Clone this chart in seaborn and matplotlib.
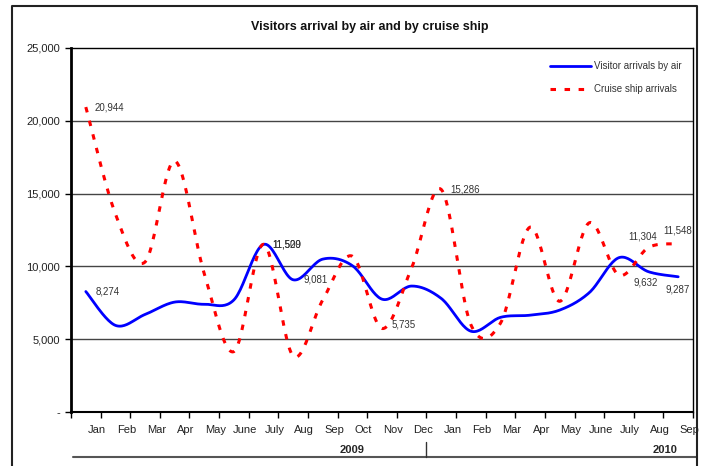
import numpy as np
import pandas as pd
import matplotlib
matplotlib.use("Agg")
import matplotlib.pyplot as plt
from matplotlib.lines import Line2D
import seaborn as sns

# Monthly data, Jan 2009 - Sep 2010
months = ["Jan", "Feb", "Mar", "Apr", "May", "June", "July", "Aug", "Sep", "Oct", "Nov", "Dec",
          "Jan", "Feb", "Mar", "Apr", "May", "June", "July", "Aug", "Sep"]
air = [8274, 5950, 6700, 7550, 7400, 7700, 11509, 9081, 10500, 10050, 7750, 8650,
       7800, 5550, 6500, 6650, 7000, 8200, 10600, 9632, 9287]
cruise = [20944, 13600, 10300, 17250, 9500, 4150, 11520, 3850, 7700, 10700, 5735, 9900,
          15286, 6000, 6100, 12700, 7600, 13000, 9400, 11304, 11548]
years = ["2009", "2010"]

# point labels: (month index, text, x offset, y offset) in px
air_labels = [(0, "8,274", 22, 0), (6, "11,509", 23, 0), (7, "9,081", 22, 0), (19, "9,632", -3, -11), (20, "9,287", -1, -13)]
cruise_labels = [(0, "20,944", 24, 0), (6, "11,520", 23, 0), (10, "5,735", 22, 4), (12, "15,286", 24, 0),
                 (19, "11,304", -6, 11), (20, "11,548", -1, 13)]


def smooth(ys, n=24):
    # Excel-like smoothed line (cubic bezier, control points at 1/6 of neighbour difference)
    ys = np.asarray(ys, dtype=float)
    xs = np.arange(len(ys), dtype=float)
    px, py = [], []
    for i in range(len(ys) - 1):
        i0, i3 = max(i - 1, 0), min(i + 2, len(ys) - 1)
        x0, y0 = xs[i], ys[i]
        x3, y3 = xs[i + 1], ys[i + 1]
        x1, y1 = x0 + (xs[i + 1] - xs[i0]) / 6, y0 + (ys[i + 1] - ys[i0]) / 6
        x2, y2 = x3 - (xs[i3] - xs[i]) / 6, y3 - (ys[i3] - ys[i]) / 6
        t = np.linspace(0, 1, n)
        bx = (1 - t) ** 3 * x0 + 3 * (1 - t) ** 2 * t * x1 + 3 * (1 - t) * t ** 2 * x2 + t ** 3 * x3
        by = (1 - t) ** 3 * y0 + 3 * (1 - t) ** 2 * t * y1 + 3 * (1 - t) * t ** 2 * y2 + t ** 3 * y3
        px.extend(bx)
        py.extend(by)
    return pd.DataFrame({"x": px, "y": py})


sns.set_style("white")
plt.rcParams["font.family"] = ["Liberation Sans", "DejaVu Sans"]

W, H = 703, 466
fig = plt.figure(figsize=(W / 100, H / 100), dpi=100)
ax = fig.add_axes([71 / W, 1 - 412 / H, (693 - 71) / W, (412 - 48) / H])

air_s = smooth(air)
cruise_s = smooth(cruise)
sns.lineplot(data=air_s, x="x", y="y", sort=False, estimator=None, color="#0000ff", lw=2.0, ax=ax,
             label="Visitor arrivals by air")
sns.lineplot(data=cruise_s, x="x", y="y", sort=False, estimator=None, color="#ff0000", lw=2.2, ax=ax,
             label="Cruise ship arrivals")
ax.lines[1].set_dashes([1.8, 2.8])

ax.set_xlim(-0.5, len(months) - 0.5)
ax.set_ylim(0, 25000)
ax.set_xlabel("")
ax.set_ylabel("")

# y axis
yt = [0, 5000, 10000, 15000, 20000, 25000]
ax.set_yticks(yt)
ax.set_yticklabels(["-"] + [f"{v:,}" for v in yt[1:]], fontsize=8, color="#222222")
for v in yt[1:-1]:
    ax.axhline(v, color="#444444", lw=1.0, zorder=0)
ax.tick_params(axis="y", length=4, width=1, color="black", direction="out", pad=4, left=True)

# x axis: ticks on category edges, labels drawn to the right of the centre
ax.set_xticks(np.arange(len(months) + 1) - 0.5)
ax.set_xticklabels([])
ax.tick_params(axis="x", length=4, width=1, color="black", direction="out", bottom=True)
for i, m in enumerate(months):
    ax.text(i + 0.38, -0.049, m, transform=ax.get_xaxis_transform(), ha="center", va="center",
            fontsize=8, color="#222222")

for s in ["left", "bottom", "top", "right"]:
    ax.spines[s].set_visible(True)
    ax.spines[s].set_color("black")
    ax.spines[s].set_linewidth(1.0)
ax.spines["left"].set_linewidth(2.0)
ax.spines["bottom"].set_linewidth(1.5)

# point labels
for i, txt, dx, dy in air_labels:
    ax.annotate(txt, (i, air[i]), xytext=(dx * 0.72, dy * 0.72), textcoords="offset points",
                ha="center", va="center", fontsize=7, color="#333333")
for i, txt, dx, dy in cruise_labels:
    ax.annotate(txt, (i, cruise[i]), xytext=(dx * 0.72, dy * 0.72), textcoords="offset points",
                ha="center", va="center", fontsize=7, color="#333333")

# year row
yr_y = 1 - 457 / H
fig.add_artist(Line2D([73 / W, 697 / W], [yr_y, yr_y], color="#555555", lw=1.5))
sep_x = ax.transData.transform((11.5, 0))[0] / W
fig.add_artist(Line2D([sep_x, sep_x], [yr_y, 1 - 442 / H], color="#333333", lw=1.0))
fig.text(352 / W, 1 - 450 / H, years[0], ha="center", va="center", fontsize=8, fontweight="bold")
fig.text(665 / W, 1 - 450 / H, years[1], ha="center", va="center", fontsize=8, fontweight="bold")

# outer chart frame
fig.add_artist(Line2D([12 / W, 12 / W, 697 / W, 697 / W], [0, 1 - 6 / H, 1 - 6 / H, 0], color="#222222", lw=1.5))

fig.text(370 / W, 1 - 27 / H, "Visitors arrival by air and by cruise ship", ha="center", va="center",
         fontsize=9, fontweight="bold", color="#111111")

leg = ax.legend(loc="upper left", bbox_to_anchor=(550 / W, 1 - 61 / H), bbox_transform=fig.transFigure,
                frameon=False, fontsize=7, handlelength=4.2, handletextpad=0.3, labelspacing=1.35,
                borderpad=0, borderaxespad=0)
for t in leg.get_texts():
    t.set_color("#333333")

fig.savefig("out.png", dpi=100)
